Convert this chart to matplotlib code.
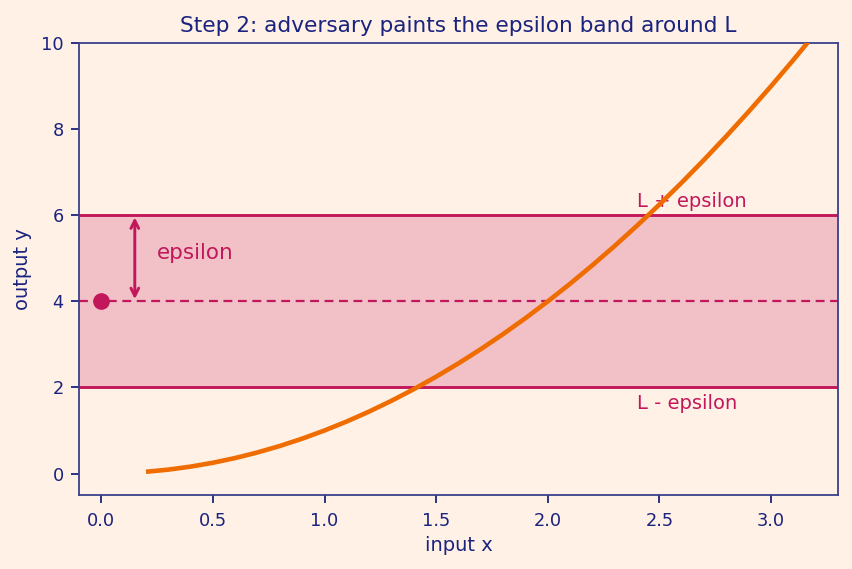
import matplotlib
matplotlib.use("Agg")
import matplotlib.pyplot as plt

# curve
curve_x = [0.2, 0.3, 0.4, 0.5, 0.6, 0.7, 0.8, 0.9, 1.0, 1.1, 1.2, 1.3, 1.4, 1.5,
           1.6, 1.7, 1.8, 1.9, 2.0, 2.1, 2.2, 2.3, 2.4, 2.5, 2.6, 2.7, 2.8, 2.9,
           3.0, 3.1, 3.17]
curve_y = [0.04, 0.09, 0.16, 0.25, 0.36, 0.49, 0.64, 0.81, 1.0, 1.21, 1.44, 1.69,
           1.96, 2.25, 2.56, 2.89, 3.24, 3.61, 4.0, 4.41, 4.84, 5.29, 5.76, 6.25,
           6.76, 7.29, 7.84, 8.41, 9.0, 9.61, 10.05]
L = 4
eps = 2
x0 = 0

bg = "#fff1e6"
navy = "#1a237e"
crimson = "#c2185b"
orange = "#ef6c00"

fig = plt.figure(figsize=(8.52, 5.69), dpi=100, facecolor=bg)
ax = fig.add_axes([0.0927, 0.13, 0.891, 0.7944])
ax.set_facecolor(bg)

ax.axhspan(L - eps, L + eps, color=crimson, alpha=0.22, lw=0)
ax.axhline(L + eps, color=crimson, lw=2.1)
ax.axhline(L - eps, color=crimson, lw=2.1)
ax.axhline(L, color=crimson, lw=1.6, ls=(0, (4, 2.5)))
ax.plot(curve_x, curve_y, color=orange, lw=3.3, solid_capstyle="butt", zorder=4)
ax.plot([x0], [L], "o", color=crimson, ms=11, zorder=5)

ax.annotate("", xy=(0.15, L + eps - 0.05), xytext=(0.15, L + 0.05),
            arrowprops=dict(arrowstyle="<->", color=crimson, lw=2.1,
                            mutation_scale=14, shrinkA=0, shrinkB=0))
ax.text(0.25, L + eps / 2 + 0.12, "epsilon", color=crimson, fontsize=15.5, va="center")
ax.text(2.4, L + eps + 0.1, "L + epsilon", color=crimson, fontsize=14, va="bottom")
ax.text(2.4, L - eps - 0.15, "L - epsilon", color=crimson, fontsize=14, va="top")

ax.set_xlim(-0.1, 3.3)
ax.set_ylim(-0.5, 10)
ax.set_xticks([0.0, 0.5, 1.0, 1.5, 2.0, 2.5, 3.0])
ax.set_yticks([0, 2, 4, 6, 8, 10])
ax.tick_params(colors=navy, labelsize=12.8, length=6, width=1.3)
ax.tick_params(axis="x", pad=6.5)
ax.tick_params(axis="y", pad=5)
for s in ax.spines.values():
    s.set_color("#3b3f8c")
    s.set_linewidth(1.3)

ax.set_xlabel("input x", color=navy, fontsize=14, labelpad=4)
ax.set_ylabel("output y", color=navy, fontsize=14, labelpad=6.5)
ax.set_title("Step 2: adversary paints the epsilon band around L", color=navy,
             fontsize=15.6, pad=8)

fig.savefig("out.png", dpi=100, facecolor=bg)
